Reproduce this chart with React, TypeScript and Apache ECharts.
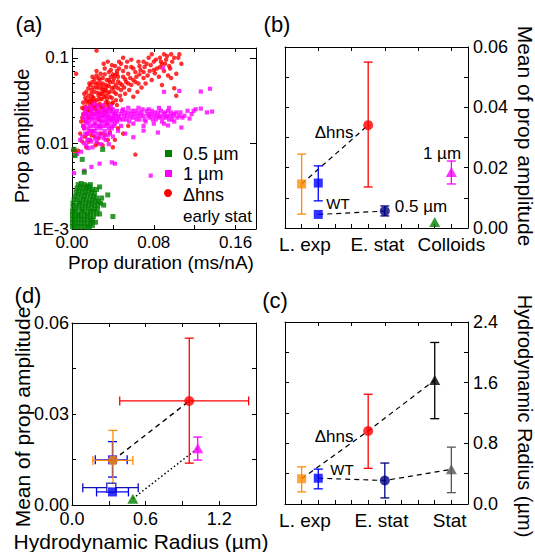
import React, { useEffect, useRef } from "react";
import * as echarts from "echarts";

// ---------- Panel (a): [prop duration (ms/nA), prop amplitude] ----------
const green05: number[][] = [
  [0.006, 0.0033], [0.009, 0.0034], [0.012, 0.0033], [0.015, 0.0032], [0.018, 0.0033],
  [0.005, 0.003], [0.008, 0.0031], [0.011, 0.003], [0.014, 0.003], [0.017, 0.0031], [0.02, 0.0029],
  [0.004, 0.0027], [0.007, 0.0028], [0.01, 0.0027], [0.013, 0.0027], [0.016, 0.0028], [0.019, 0.0027], [0.022, 0.0026],
  [0.003, 0.0024], [0.006, 0.0025], [0.009, 0.0024], [0.012, 0.0024], [0.015, 0.0025], [0.018, 0.0024], [0.021, 0.0024], [0.024, 0.0023],
  [0.002, 0.0022], [0.005, 0.0022], [0.008, 0.0021], [0.011, 0.0022], [0.014, 0.0022], [0.017, 0.0021], [0.02, 0.0022], [0.023, 0.0021], [0.026, 0.0021],
  [0.001, 0.002], [0.004, 0.0019], [0.007, 0.002], [0.01, 0.0019], [0.013, 0.002], [0.016, 0.0019], [0.019, 0.002], [0.022, 0.0019], [0.025, 0.0019], [0.028, 0.002],
  [0.001, 0.0018], [0.004, 0.0017], [0.007, 0.0018], [0.01, 0.0017], [0.013, 0.0018], [0.016, 0.0017], [0.019, 0.0018], [0.022, 0.0017], [0.025, 0.0017],
  [0.0005, 0.0016], [0.003, 0.0016], [0.006, 0.0015], [0.009, 0.0016], [0.012, 0.0016], [0.015, 0.0015], [0.018, 0.0016], [0.021, 0.0016], [0.024, 0.0015],
  [0.0005, 0.00145], [0.003, 0.0014], [0.006, 0.00145], [0.009, 0.0014], [0.012, 0.00145], [0.015, 0.0014], [0.018, 0.00145], [0.021, 0.0014],
  [0.0005, 0.0013], [0.003, 0.00128], [0.006, 0.0013], [0.009, 0.00128], [0.012, 0.0013], [0.015, 0.00128], [0.018, 0.0013], [0.02, 0.00125],
  [0.0005, 0.00118], [0.003, 0.00116], [0.006, 0.00118], [0.009, 0.00116], [0.012, 0.00118], [0.015, 0.00115], [0.018, 0.00117],
  [0.0005, 0.00107], [0.003, 0.00105], [0.006, 0.00107], [0.009, 0.00105], [0.012, 0.00107], [0.015, 0.00104], [0.017, 0.00106],
  [0.002, 0.0085], [0.003, 0.0072], [0.01, 0.0065], [0.03, 0.0085], [0.012, 0.0046], [0.027, 0.0031], [0.035, 0.0025],
  [0.04, 0.0014], [0.024, 0.0029], [0.029, 0.0023], [0.031, 0.0019], [0.027, 0.0015], [0.023, 0.0012], [0.02, 0.0011],
];

const magenta1: number[][] = [
  [0.01, 0.012], [0.012, 0.015], [0.014, 0.018], [0.015, 0.013], [0.016, 0.021], [0.017, 0.011], [0.018, 0.016], [0.019, 0.024],
  [0.02, 0.019], [0.021, 0.013], [0.022, 0.017], [0.023, 0.022], [0.024, 0.015], [0.025, 0.027], [0.026, 0.02], [0.027, 0.012],
  [0.028, 0.018], [0.029, 0.023], [0.03, 0.016], [0.031, 0.021], [0.032, 0.014], [0.033, 0.019], [0.034, 0.025], [0.035, 0.017],
  [0.036, 0.022], [0.037, 0.013], [0.038, 0.02], [0.039, 0.018], [0.04, 0.023], [0.041, 0.016], [0.042, 0.021], [0.043, 0.019],
  [0.044, 0.024], [0.046, 0.02], [0.048, 0.022], [0.05, 0.019], [0.052, 0.023], [0.054, 0.021], [0.056, 0.018], [0.058, 0.022],
  [0.06, 0.02], [0.062, 0.024], [0.064, 0.021], [0.066, 0.019], [0.068, 0.023], [0.07, 0.021], [0.072, 0.018], [0.074, 0.022],
  [0.076, 0.02], [0.078, 0.024], [0.08, 0.021], [0.082, 0.019], [0.084, 0.023], [0.086, 0.021], [0.088, 0.018], [0.09, 0.022],
  [0.092, 0.02], [0.094, 0.024], [0.096, 0.021], [0.098, 0.019], [0.1, 0.022], [0.103, 0.02], [0.106, 0.023], [0.11, 0.021],
  [0.113, 0.024], [0.117, 0.022], [0.121, 0.025], [0.126, 0.0255], [0.132, 0.023], [0.137, 0.0235], [0.115, 0.0195],
  [0.107, 0.0153], [0.094, 0.0162], [0.084, 0.0134], [0.07, 0.0141], [0.06, 0.0118], [0.052, 0.013],
  [0.126, 0.0403], [0.135, 0.0435], [0.09, 0.04], [0.105, 0.041], [0.119, 0.024], [0.089, 0.076],
  [0.002, 0.0045], [0.019, 0.0053], [0.027, 0.0058], [0.039, 0.006], [0.077, 0.0042], [0.012, 0.0048], [0.042, 0.0058], [0.005, 0.0075],
  [0.011, 0.02], [0.013, 0.024], [0.012, 0.01], [0.014, 0.0095], [0.016, 0.0088], [0.02, 0.009], [0.024, 0.0105], [0.028, 0.0098],
  [0.033, 0.011], [0.036, 0.0098], [0.04, 0.012], [0.045, 0.014], [0.048, 0.016], [0.05, 0.025], [0.055, 0.026], [0.06, 0.017],
  [0.065, 0.026], [0.07, 0.016], [0.075, 0.025], [0.08, 0.017], [0.085, 0.026], [0.09, 0.017], [0.095, 0.026], [0.1, 0.018],
  [0.018, 0.027], [0.022, 0.029], [0.026, 0.024], [0.03, 0.028], [0.034, 0.021], [0.038, 0.027], [0.042, 0.017], [0.015, 0.017],
  [0.02, 0.022], [0.024, 0.019], [0.028, 0.015], [0.032, 0.018], [0.036, 0.015], [0.04, 0.02], [0.044, 0.018], [0.013, 0.013],
  [0.017, 0.014], [0.021, 0.016], [0.025, 0.013], [0.029, 0.02], [0.033, 0.016], [0.037, 0.019], [0.041, 0.022], [0.009, 0.008],
  [0.008, 0.011],
  [0.011, 0.016], [0.013, 0.019], [0.015, 0.022], [0.017, 0.018], [0.019, 0.014], [0.021, 0.02], [0.023, 0.017], [0.025, 0.021],
  [0.027, 0.016], [0.029, 0.018], [0.031, 0.025], [0.033, 0.022], [0.035, 0.02], [0.037, 0.024], [0.039, 0.015], [0.041, 0.019],
  [0.043, 0.022], [0.045, 0.021], [0.047, 0.019], [0.049, 0.024], [0.051, 0.021], [0.053, 0.019], [0.055, 0.023], [0.057, 0.02],
  [0.059, 0.024], [0.061, 0.022], [0.063, 0.019], [0.065, 0.023], [0.067, 0.021], [0.069, 0.025], [0.071, 0.019], [0.073, 0.024],
  [0.075, 0.021], [0.077, 0.022], [0.079, 0.019], [0.081, 0.023], [0.083, 0.021], [0.085, 0.02], [0.087, 0.024], [0.089, 0.02],
  [0.091, 0.023], [0.093, 0.021], [0.095, 0.019], [0.097, 0.023], [0.099, 0.021], [0.102, 0.023], [0.105, 0.021], [0.108, 0.02],
  [0.012, 0.022], [0.014, 0.026], [0.016, 0.015], [0.018, 0.02], [0.02, 0.025], [0.022, 0.014], [0.024, 0.023], [0.026, 0.016],
  [0.028, 0.021], [0.03, 0.013], [0.032, 0.023], [0.034, 0.017], [0.036, 0.019], [0.038, 0.016], [0.04, 0.025], [0.015, 0.011],
  [0.019, 0.0105], [0.023, 0.0115], [0.031, 0.0115], [0.035, 0.0125],
];

const redHns: number[][] = [
  [0.012, 0.025], [0.015, 0.03], [0.018, 0.028], [0.02, 0.035], [0.022, 0.04], [0.024, 0.032], [0.026, 0.045], [0.028, 0.038],
  [0.03, 0.05], [0.032, 0.042], [0.034, 0.055], [0.036, 0.047], [0.038, 0.06], [0.04, 0.052], [0.014, 0.022], [0.016, 0.036],
  [0.019, 0.042], [0.021, 0.027], [0.023, 0.05], [0.025, 0.024], [0.027, 0.029], [0.029, 0.033], [0.031, 0.027], [0.033, 0.036],
  [0.035, 0.03], [0.037, 0.04], [0.039, 0.034], [0.041, 0.045], [0.043, 0.038], [0.045, 0.06], [0.047, 0.05], [0.05, 0.07],
  [0.052, 0.056], [0.055, 0.065], [0.058, 0.048], [0.06, 0.075], [0.063, 0.06], [0.066, 0.08], [0.07, 0.068], [0.073, 0.085],
  [0.076, 0.07], [0.08, 0.09], [0.083, 0.075], [0.086, 0.1], [0.088, 0.085], [0.09, 0.11], [0.092, 0.095], [0.095, 0.08],
  [0.1, 0.1], [0.105, 0.11], [0.107, 0.085], [0.102, 0.065], [0.097, 0.058], [0.1, 0.044], [0.102, 0.036], [0.085, 0.06],
  [0.078, 0.055], [0.072, 0.05], [0.068, 0.045], [0.064, 0.04], [0.06, 0.035], [0.056, 0.042], [0.052, 0.038], [0.048, 0.032],
  [0.044, 0.028], [0.04, 0.03], [0.036, 0.026], [0.011, 0.03], [0.01, 0.02], [0.013, 0.018], [0.012, 0.015], [0.015, 0.013],
  [0.018, 0.011], [0.02, 0.014], [0.022, 0.012], [0.025, 0.01], [0.028, 0.013], [0.03, 0.0095], [0.035, 0.011], [0.04, 0.009],
  [0.014, 0.009], [0.01, 0.0105], [0.006, 0.0082], [0.003, 0.0082], [0.001, 0.0083], [0.004, 0.065], [0.024, 0.121], [0.062, 0.0074],
  [0.045, 0.015], [0.05, 0.013], [0.055, 0.016], [0.017, 0.05], [0.02, 0.06], [0.024, 0.07], [0.028, 0.065], [0.032, 0.075],
  [0.036, 0.068], [0.042, 0.08], [0.048, 0.085], [0.054, 0.09], [0.058, 0.078], [0.044, 0.07], [0.014, 0.04], [0.018, 0.033],
  [0.02, 0.025], [0.022, 0.031], [0.026, 0.036], [0.029, 0.026], [0.031, 0.04], [0.034, 0.033], [0.016, 0.026], [0.013, 0.034],
  [0.027, 0.055], [0.024, 0.045], [0.03, 0.045], [0.021, 0.045], [0.019, 0.038], [0.017, 0.02], [0.023, 0.022], [0.026, 0.019],
  [0.03, 0.021], [0.034, 0.024], [0.038, 0.025], [0.065, 0.09], [0.075, 0.1], [0.08, 0.072], [0.09, 0.07], [0.094, 0.062],
  [0.088, 0.048], [0.07, 0.058], [0.062, 0.052],
  [0.011, 0.022], [0.013, 0.027], [0.015, 0.024], [0.017, 0.031], [0.019, 0.029], [0.021, 0.034], [0.023, 0.027], [0.025, 0.039],
  [0.027, 0.033], [0.029, 0.043], [0.031, 0.035], [0.033, 0.048], [0.035, 0.039], [0.037, 0.052], [0.039, 0.044], [0.041, 0.057],
  [0.043, 0.048], [0.045, 0.053], [0.012, 0.038], [0.014, 0.032], [0.016, 0.044], [0.018, 0.048], [0.02, 0.052], [0.022, 0.056],
  [0.024, 0.062], [0.026, 0.058], [0.028, 0.049], [0.03, 0.058], [0.032, 0.064], [0.034, 0.046], [0.036, 0.055], [0.038, 0.072],
  [0.04, 0.064], [0.042, 0.062], [0.046, 0.075], [0.05, 0.06], [0.053, 0.078], [0.057, 0.058], [0.062, 0.068], [0.067, 0.072],
  [0.071, 0.078], [0.077, 0.082], [0.082, 0.095], [0.087, 0.09], [0.093, 0.105], [0.098, 0.09], [0.015, 0.02], [0.019, 0.022],
  [0.023, 0.025], [0.027, 0.023], [0.031, 0.024], [0.035, 0.028], [0.039, 0.029], [0.043, 0.032], [0.047, 0.036], [0.051, 0.045],
  [0.055, 0.05], [0.011, 0.016], [0.013, 0.012], [0.016, 0.0105], [0.019, 0.0125], [0.023, 0.0095], [0.026, 0.0115], [0.032, 0.0125],
  [0.037, 0.0135], [0.042, 0.011], [0.008, 0.013], [0.009, 0.018], [0.01, 0.026], [0.033, 0.03], [0.028, 0.027], [0.024, 0.028],
  [0.02, 0.031], [0.017, 0.024], [0.025, 0.05], [0.029, 0.038], [0.033, 0.042], [0.037, 0.035], [0.041, 0.04], [0.045, 0.044],
  [0.049, 0.048], [0.053, 0.052], [0.06, 0.055], [0.066, 0.064], [0.074, 0.062], [0.081, 0.066], [0.086, 0.078], [0.091, 0.085],
  [0.096, 0.075], [0.065, 0.05], [0.048, 0.042], [0.044, 0.065], [0.039, 0.082], [0.05, 0.1], [0.058, 0.095], [0.07, 0.09],
  [0.078, 0.11], [0.097, 0.11], [0.104, 0.1], [0.046, 0.09], [0.035, 0.09], [0.031, 0.085],
];

const aXTickValues = [0, 0.04, 0.08, 0.12, 0.16];
const aXLabelValues = [0, 0.08, 0.16];
const aYMajor = [0.001, 0.01, 0.1];
const aYLabels = ["1E-3", "0.01", "0.1"];
const aYMinor = [0.002, 0.003, 0.004, 0.005, 0.006, 0.007, 0.008, 0.009, 0.02, 0.03, 0.04, 0.05, 0.06, 0.07, 0.08, 0.09];

// ---------- Panel (b): mean of prop amplitude ----------
// order: ΔHNS L.exp, WT L.exp (upper), WT L.exp, ΔHNS E.stat, WT E.stat, 0.5 µm colloid, 1 µm colloid
const bX = [1, 2, 2, 5, 6, 9, 10];
const bMean = [0.0146, 0.0149, 0.0045, 0.0341, 0.0056, 0.002, 0.0186];
const bLow = [0.0046, 0.009, 0.0045, 0.0136, 0.004, 0.002, 0.0146];
const bHigh = [0.0245, 0.0206, 0.0045, 0.055, 0.0073, 0.002, 0.0222];
const bCategories = ["L. exp", "E. stat", "Colloids"];
const bCategoryPos = [1.2, 5.55, 10.0];
const bYTicks = [0.01, 0.02, 0.03, 0.04, 0.05];
const bYLabels = [0, 0.02, 0.04, 0.06];

// ---------- Panel (c): hydrodynamic radius (µm) ----------
// order: ΔHNS L.exp, WT L.exp, ΔHNS E.stat, WT E.stat, ΔHNS Stat, WT Stat
const cX = [1, 2, 5, 6, 9, 10];
const cMean = [0.333, 0.34, 0.963, 0.31, 1.635, 0.457];
const cLow = [0.16, 0.2, 0.47, 0.08, 1.125, 0.15];
const cHigh = [0.49, 0.46, 1.447, 0.54, 2.13, 0.75];
const cCategories = ["L. exp", "E. stat", "Stat"];
const cCategoryPos = [1.2, 5.8, 9.9];
const cYTicks = [0.4, 0.8, 1.2, 1.6, 2.0];
const cYLabels = [0, 0.8, 1.6, 2.4];

// ---------- Panel (d): mean amplitude vs radius ----------
// order: WT L.exp (upper), WT E.stat, WT L.exp, ΔHNS L.exp, ΔHNS E.stat, 0.5 µm, 1 µm
const dRadius = [0.33, 0.32, 0.33, 0.334, 0.956, 0.496, 1.025];
const dRadLow = [0.19, 0.088, 0.2, 0.17, 0.389, 0.496, 1.025];
const dRadHigh = [0.45, 0.54, 0.46, 0.496, 1.44, 0.496, 1.025];
const dMean = [0.0149, 0.0057, 0.0043, 0.0147, 0.0343, 0.0021, 0.0187];
const dMeanLow = [0.0092, 0.0057, 0.0043, 0.0046, 0.0138, 0.0021, 0.0148];
const dMeanHigh = [0.0209, 0.0057, 0.0043, 0.0246, 0.055, 0.0021, 0.0224];
const dXTicks = [0.3, 0.6, 0.9, 1.2];
const dXLabels = [0, 0.6, 1.2];
const dYTicks = [0.015, 0.03, 0.045];
const dYLabels = [0, 0.03, 0.06];

const SANS = "'Liberation Sans', Arial, Helvetica, sans-serif";

const ORANGE = "#ff8c00";
const BLUE = "#0000ff";
const RED = "#ff0000";
const NAVY = "#000080";
const GREEN = "#008000";
const MAGENTA = "#ff00ff";

const bStyle = [
  { c: ORANGE, s: "rect" }, { c: BLUE, s: "rect" }, { c: BLUE, s: "rect" }, { c: RED, s: "circle" },
  { c: NAVY, s: "circle" }, { c: GREEN, s: "triangle" }, { c: MAGENTA, s: "triangle" },
];
const cStyle = [
  { c: ORANGE, s: "rect" }, { c: BLUE, s: "rect" }, { c: RED, s: "circle" },
  { c: NAVY, s: "circle" }, { c: "#000000", s: "triangle" }, { c: "#555555", s: "triangle" },
];
const dStyle = [
  { c: BLUE, s: "rect" }, { c: "#1010b0", s: "rect", hollow: true }, { c: BLUE, s: "rect" }, { c: ORANGE, s: "circle" },
  { c: RED, s: "circle" }, { c: GREEN, s: "triangle" }, { c: MAGENTA, s: "triangle" },
];

const symSize = (s: string): any => (s === "rect" ? 9 : s === "circle" ? 10 : [11, 10]);

function axisBase(gridIndex: number, position: string, min: number, max: number, ticks: number[], len = 4): any {
  return {
    gridIndex, position, type: "value", min, max,
    axisLine: { show: true, onZero: false, lineStyle: { color: "#000", width: 1 } },
    axisTick: { show: true, inside: true, length: len, customValues: ticks, lineStyle: { color: "#000", width: 1 } },
    axisLabel: { show: false },
    splitLine: { show: false },
  };
}

function labels(values: number[], fmt: (v: number) => string, size: number, margin: number): any {
  return { show: true, customValues: values, formatter: fmt, color: "#000", fontSize: size, fontFamily: SANS, margin };
}

const nearest = (vals: number[], names: string[]) => (v: number) => {
  let bi = 0;
  for (let i = 1; i < vals.length; i++) if (Math.abs(vals[i] - v) < Math.abs(vals[bi] - v)) bi = i;
  return names[bi];
};

function errorRender(color: string) {
  return (params: any, api: any) => {
    const x = api.value(0), y = api.value(1);
    const xl = api.value(2), xh = api.value(3), yl = api.value(4), yh = api.value(5);
    const style = { stroke: color, lineWidth: 1.3, fill: null };
    const cap = 4.5;
    const ch: any[] = [];
    if (yl !== yh) {
      const a = api.coord([x, yl]), b = api.coord([x, yh]);
      ch.push({ type: "line", shape: { x1: a[0], y1: a[1], x2: b[0], y2: b[1] }, style });
      ch.push({ type: "line", shape: { x1: a[0] - cap, y1: a[1], x2: a[0] + cap, y2: a[1] }, style });
      ch.push({ type: "line", shape: { x1: b[0] - cap, y1: b[1], x2: b[0] + cap, y2: b[1] }, style });
    }
    if (xl !== xh) {
      const a = api.coord([xl, y]), b = api.coord([xh, y]);
      ch.push({ type: "line", shape: { x1: a[0], y1: a[1], x2: b[0], y2: b[1] }, style });
      ch.push({ type: "line", shape: { x1: a[0], y1: a[1] - cap, x2: a[0], y2: a[1] + cap }, style });
      ch.push({ type: "line", shape: { x1: b[0], y1: b[1] - cap, x2: b[0], y2: b[1] + cap }, style });
    }
    return { type: "group", children: ch };
  };
}

function pointSeries(
  xi: number, yi: number, xs: number[], ys: number[], xlo: number[], xhi: number[], ylo: number[], yhi: number[], styles: any[]
): any[] {
  const out: any[] = [];
  xs.forEach((x, i) => {
    const st = styles[i];
    out.push({
      type: "custom", xAxisIndex: xi, yAxisIndex: yi, silent: true, z: 3,
      renderItem: errorRender(st.c),
      data: [[x, ys[i], xlo[i], xhi[i], ylo[i], yhi[i]]],
      encode: { x: 0, y: 1 },
    });
    out.push({
      type: "scatter", xAxisIndex: xi, yAxisIndex: yi, silent: true, z: 4,
      symbol: st.s, symbolSize: symSize(st.s),
      itemStyle: st.hollow ? { color: "#ffffff", borderColor: st.c, borderWidth: 1.5 } : { color: st.c },
      data: [[x, ys[i]]],
    });
  });
  return out;
}

function lineSeries(xi: number, yi: number, xs: number[], ys: number[], idx: number[], type: any, width = 1.2): any {
  return {
    type: "line", xAxisIndex: xi, yAxisIndex: yi, silent: true, z: 2, symbol: "none",
    lineStyle: { color: "#000", width, type },
    data: idx.map((i) => [xs[i], ys[i]]),
  };
}

function txt(text: string, x: number, y: number, size: number, opts: any = {}): any {
  const align = opts.align || "center";
  return {
    type: "text", x, y, rotation: opts.rotation || 0, silent: true, z: 100,
    style: {
      text, fill: opts.color || "#000", fontSize: size, fontFamily: SANS,
      align, verticalAlign: "middle", textAlign: align, textVerticalAlign: "middle",
    },
  };
}

export default function App() {
  const ref = useRef<HTMLDivElement>(null);
  useEffect(() => {
    if (!ref.current) return;
    const chart = echarts.init(ref.current, null, { renderer: "svg" });

    const xAxis: any[] = [
      { ...axisBase(0, "bottom", 0, 0.18, aXTickValues), axisLabel: labels(aXLabelValues, (v) => v.toFixed(2), 17, 5) },
      axisBase(0, "top", 0, 0.18, aXTickValues),
      { ...axisBase(1, "bottom", 0, 11, [1, 2, 3, 4, 5, 6, 7, 8, 9, 10]), axisLabel: labels(bCategoryPos, nearest(bCategoryPos, bCategories) as any, 19, 7) },
      axisBase(1, "top", 0, 11, [2, 4, 6, 8, 10]),
      { ...axisBase(2, "bottom", 0, 11, [1, 2, 3, 4, 5, 6, 7, 8, 9, 10]), axisLabel: labels(cCategoryPos, nearest(cCategoryPos, cCategories) as any, 19, 7) },
      axisBase(2, "top", 0, 11, [2, 4, 6, 8, 10]),
      { ...axisBase(3, "bottom", 0, 1.5, dXTicks), axisLabel: labels(dXLabels, (v) => v.toFixed(1), 18, 5) },
      axisBase(3, "top", 0, 1.5, dXTicks),
    ];

    const logAxis = (position: string, ticks: number[], len: number, line: boolean): any => ({
      gridIndex: 0, position, type: "log", logBase: 10, min: 0.001, max: 0.13,
      axisLine: { show: line, onZero: false, lineStyle: { color: "#000", width: 1 } },
      axisTick: { show: true, inside: true, length: len, customValues: ticks, lineStyle: { color: "#000", width: 1 } },
      axisLabel: { show: false },
      splitLine: { show: false },
    });

    const yAxis: any[] = [
      {
        ...logAxis("left", aYMajor, 6, true),
        axisLabel: {
          show: true, customValues: aYMajor, color: "#000", fontSize: 17, fontFamily: SANS, margin: 3,
          formatter: (v: number) => {
            const e = Math.round(Math.log10(v));
            const i = aYMajor.findIndex((t) => Math.round(Math.log10(t)) === e);
            return aYLabels[i] ?? "";
          },
        },
      },
      logAxis("left", aYMinor, 3, false),
      logAxis("right", aYMajor, 6, true),
      axisBase(1, "left", 0, 0.06, bYTicks),
      { ...axisBase(1, "right", 0, 0.06, bYTicks), axisLabel: labels(bYLabels, (v) => v.toFixed(2), 18, 5) },
      axisBase(2, "left", 0, 2.4, cYTicks),
      { ...axisBase(2, "right", 0, 2.4, cYTicks), axisLabel: labels(cYLabels, (v) => v.toFixed(1), 18, 5) },
      { ...axisBase(3, "left", 0, 0.06, dYTicks), axisLabel: labels(dYLabels, (v) => v.toFixed(2), 18, 3) },
      axisBase(3, "right", 0, 0.06, dYTicks),
    ];

    const series: any[] = [
      { type: "scatter", xAxisIndex: 0, yAxisIndex: 0, silent: true, symbol: "circle", symbolSize: 4.5, itemStyle: { color: RED }, data: redHns, z: 2 },
      { type: "scatter", xAxisIndex: 0, yAxisIndex: 0, silent: true, symbol: "rect", symbolSize: 4.2, itemStyle: { color: MAGENTA }, data: magenta1, z: 3 },
      { type: "scatter", xAxisIndex: 0, yAxisIndex: 0, silent: true, symbol: "rect", symbolSize: 5, itemStyle: { color: GREEN }, data: green05, z: 4 },
      // panel b
      lineSeries(2, 4, bX, bMean, [0, 3], [5, 4]),
      lineSeries(2, 4, bX, bMean, [2, 4], [5, 4]),
      ...pointSeries(2, 4, bX, bMean, bX, bX, bLow, bHigh, bStyle),
      // panel c
      lineSeries(4, 6, cX, cMean, [0, 2, 4], [5, 4]),
      lineSeries(4, 6, cX, cMean, [1, 3, 5], [5, 4]),
      ...pointSeries(4, 6, cX, cMean, cX, cX, cLow, cHigh, cStyle),
      // panel d
      lineSeries(6, 7, dRadius, dMean, [3, 4], [5, 4], 1.4),
      lineSeries(6, 7, dRadius, dMean, [5, 6], [1.5, 2.5], 1.5),
      ...pointSeries(6, 7, dRadius, dMean, dRadLow, dRadHigh, dMeanLow, dMeanHigh, dStyle),
    ];

    const graphic: any[] = [
      txt("(a)", 29, 24, 22), txt("(b)", 277, 24, 22), txt("(d)", 28, 295, 22), txt("(c)", 275, 300, 22),
      txt("Prop amplitude", 22, 136, 20, { rotation: Math.PI / 2 }),
      txt("Prop duration (ms/nA)", 161, 262, 19),
      txt("Mean of prop amplitude", 525, 136, 21, { rotation: -Math.PI / 2 }),
      txt("Hydrodynamic Radius (\u00b5m)", 525, 416, 20, { rotation: -Math.PI / 2 }),
      txt("Mean of prop amplitude", 22, 417, 21, { rotation: Math.PI / 2 }),
      txt("Hydrodynamic Radius (\u00b5m)", 141, 541, 21),
      // legend (a)
      { type: "rect", shape: { x: 165, y: 150, width: 7, height: 7 }, style: { fill: GREEN }, silent: true, z: 100 },
      { type: "rect", shape: { x: 165, y: 170, width: 7, height: 7 }, style: { fill: MAGENTA }, silent: true, z: 100 },
      { type: "circle", shape: { cx: 168, cy: 193, r: 4 }, style: { fill: RED }, silent: true, z: 100 },
      txt("0.5 \u00b5m", 183, 154, 18, { align: "left" }),
      txt("1 \u00b5m", 183, 174, 18, { align: "left" }),
      txt("\u0394hns", 183, 195, 18, { align: "left" }),
      txt("early stat", 183, 216, 17, { align: "left" }),
      // panel b annotations
      txt("\u0394hns", 334, 132, 17),
      txt("WT", 338, 203, 15),
      txt("0.5 \u00b5m", 421, 206, 17),
      txt("1 \u00b5m", 442, 153, 17),
      // panel c annotations
      txt("\u0394hns", 334, 436, 17),
      txt("WT", 342, 469, 15),
    ];

    chart.setOption({
      animation: false,
      backgroundColor: "#ffffff",
      grid: [
        { left: 72, top: 48, width: 184, height: 181 },
        { left: 285, top: 47, width: 183, height: 181 },
        { left: 285, top: 322, width: 183, height: 182 },
        { left: 72, top: 323, width: 184, height: 182 },
      ],
      xAxis,
      yAxis,
      series,
      graphic,
    });
    return () => chart.dispose();
  }, []);
  return <div ref={ref} style={{ position: "absolute", left: 0, top: 0, width: 535, height: 552 }} />;
}
